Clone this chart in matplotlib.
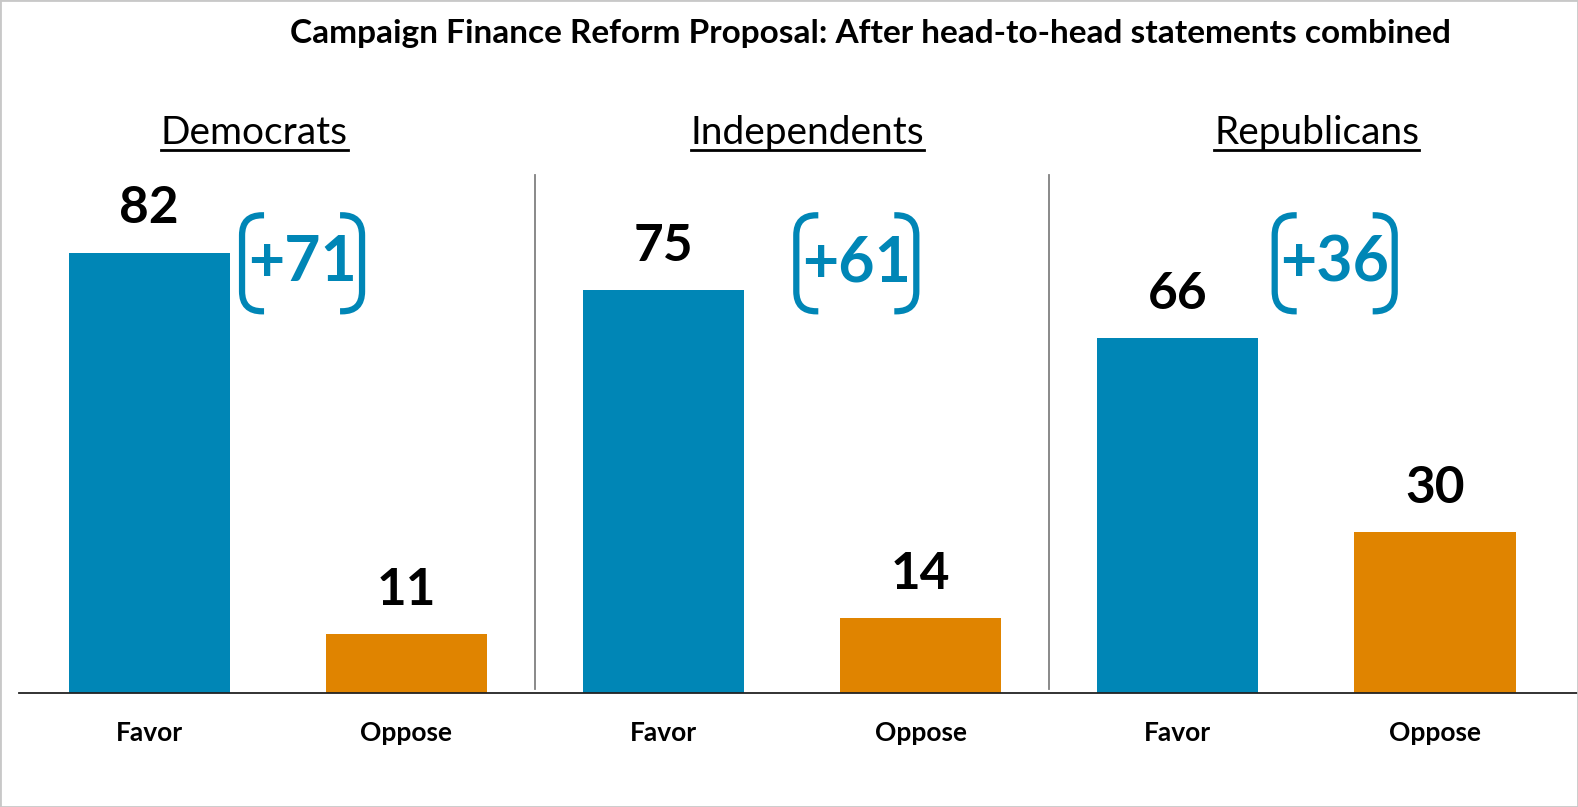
import matplotlib
matplotlib.use("Agg")
import matplotlib.pyplot as plt
import numpy as np
from matplotlib.lines import Line2D
from matplotlib.patches import PathPatch, Rectangle
from matplotlib.path import Path

TITLE = "Campaign Finance Reform Proposal: After head-to-head statements combined"
GROUPS = ["Democrats", "Independents", "Republicans"]
RESPONSES = ["Favor", "Oppose"]
FAVOR = [82, 75, 66]
OPPOSE = [11, 14, 30]

BLUE = "#0086B6"
ORANGE = "#E08400"
FONT = "Lato"

# layout tweaks (data units along x)
GROUP_TITLE_X = [0.41, 2.56, 4.54]
MARGIN_X_OFF = [0.595, 0.75, 0.61]
MARGIN_Y = 80


def bracket(ax, cx, cy, hw=60, hh=48, r=20, stub=2, **kw):
    """Rounded square brackets around (cx, cy) given in data; sizes in pixels."""
    px, py = ax.transData.transform((cx, cy))
    for s in (-1, 1):
        x0 = px + s * hw
        verts = [(x0 - s * (r + stub), py + hh), (x0 - s * r, py + hh),
                 (x0, py + hh), (x0, py + hh - r),
                 (x0, py - hh + r),
                 (x0, py - hh), (x0 - s * r, py - hh), (x0 - s * (r + stub), py - hh)]
        codes = [Path.MOVETO, Path.LINETO, Path.CURVE3, Path.CURVE3, Path.LINETO,
                 Path.CURVE3, Path.CURVE3, Path.LINETO]
        ax.add_artist(PathPatch(Path(verts, codes), fill=False, transform=None,
                                capstyle="butt", joinstyle="round", **kw))


def main():
    fig = plt.figure(figsize=(15.78, 8.07), dpi=100)
    W, H = 1578, 807
    ax = fig.add_axes([19 / W, (H - 693) / H, (1578 - 19) / W, (693 - 100) / H])

    x = np.arange(6)
    vals = [v for pair in zip(FAVOR, OPPOSE) for v in pair]
    cols = [BLUE, ORANGE] * 3
    ax.bar(x, vals, width=0.626, color=cols, zorder=2)
    ax.set_xlim(-0.5055, 5.556)
    ax.set_ylim(0, 110.4)

    for s in ("top", "right", "left"):
        ax.spines[s].set_visible(False)
    ax.spines["bottom"].set_color("#222222")
    ax.spines["bottom"].set_linewidth(1.3)
    ax.set_yticks([])
    ax.set_xticks(x)
    ax.set_xticklabels(RESPONSES * 3, fontsize=19, fontweight="bold", family=FONT)
    ax.tick_params(axis="x", length=0, pad=20)

    for xi, v in zip(x, vals):
        ax.annotate(str(v), (xi, v), xytext=(0, 21), textcoords="offset points",
                    ha="center", va="baseline", fontsize=37, fontweight="bold",
                    family=FONT, color="black")

    # separators between groups
    for xs in (1.5, 3.5):
        ax.plot([xs, xs], [0.8, 96.4], color="#808080", lw=1.3, zorder=1)

    fig.canvas.draw()
    renderer = fig.canvas.get_renderer()

    for i, g in enumerate(GROUPS):
        t = ax.text(GROUP_TITLE_X[i], 102.2, g, ha="center", va="baseline",
                    fontsize=28, family=FONT, color="black")
        bb = t.get_window_extent(renderer)
        ax.add_artist(Line2D([bb.x0, bb.x1], [bb.y0 + 1, bb.y0 + 1], transform=None,
                             color="black", lw=2))

        mx = 2 * i + MARGIN_X_OFF[i]
        ax.text(mx, MARGIN_Y, f"+{FAVOR[i] - OPPOSE[i]}", ha="center", va="center",
                fontsize=45, fontweight="bold", family=FONT, color=BLUE)
        bracket(ax, mx, MARGIN_Y, edgecolor=BLUE, lw=4.5)

    fig.text(0.5515, 1 - 33 / H, TITLE, ha="center", va="center", fontsize=24,
             fontweight="bold", family=FONT)

    fig.patches.append(Rectangle((0, 0), 1, 1, transform=fig.transFigure, fill=False,
                                 edgecolor="#c8c8c8", lw=2))
    fig.savefig("out.png", dpi=100)


if __name__ == "__main__":
    main()
